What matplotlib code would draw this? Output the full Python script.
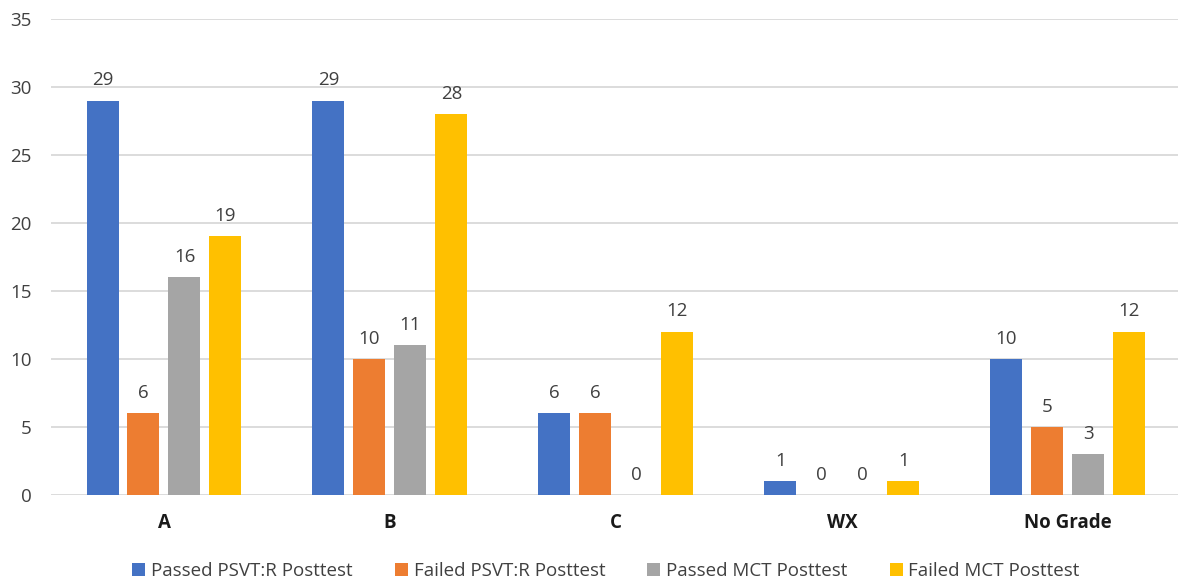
import matplotlib
matplotlib.use("Agg")
import matplotlib.pyplot as plt
import numpy as np

plt.rcParams['font.family'] = ['Open Sans', 'DejaVu Sans']

categories = ["A", "B", "C", "WX", "No Grade"]
series_names = ["Passed PSVT:R Posttest", "Failed PSVT:R Posttest",
                "Passed MCT Posttest", "Failed MCT Posttest"]
passed_psvt = [29, 29, 6, 1, 10]
failed_psvt = [6, 10, 6, 0, 5]
passed_mct = [16, 11, 0, 0, 3]
failed_mct = [19, 28, 12, 1, 12]
colors = ["#4472C4", "#ED7D31", "#A5A5A5", "#FFC000"]

series = [passed_psvt, failed_psvt, passed_mct, failed_mct]

fig = plt.figure(figsize=(11.78, 5.85), dpi=100)
ax = fig.add_axes([51 / 1178, 1 - 494.7 / 585, 1127 / 1178, (494.7 - 19) / 585])

x = np.arange(len(categories))
step = 0.1814
width = 0.1416
label_color = "#404040"
fs = 13.5

for i, (vals, name, c) in enumerate(zip(series, series_names, colors)):
    pos = x + (i - 1.5) * step
    ax.bar(pos, vals, width=width, color=c, label=name, zorder=3)
    for xp, v in zip(pos, vals):
        ax.annotate(str(v), (xp, v), xytext=(0, 8), textcoords="offset points",
                    ha="center", va="bottom", fontsize=fs, color=label_color)

ax.set_ylim(0, 35)
ax.set_xlim(-0.5, 4.487)
ax.set_yticks(range(0, 36, 5))
ax.yaxis.grid(True, color="#D9D9D9", linewidth=1.3, zorder=0)
ax.set_axisbelow(True)
for s in ax.spines.values():
    s.set_visible(False)
ax.tick_params(axis="both", length=0)
ax.tick_params(axis="y", pad=14, labelsize=fs, labelcolor=label_color)
ax.set_xticks(x)
ax.set_xticklabels(categories, fontsize=fs, fontweight="bold", color="#1a1a1a")
ax.tick_params(axis="x", pad=13)

fig.legend(loc="center", bbox_to_anchor=(606 / 1178, 1 - 571 / 585), ncol=4,
           frameon=False, fontsize=fs, handlelength=0.7, handleheight=0.7,
           handletextpad=0.3, columnspacing=2.25, labelcolor=label_color)

fig.savefig("out.png", dpi=100)
